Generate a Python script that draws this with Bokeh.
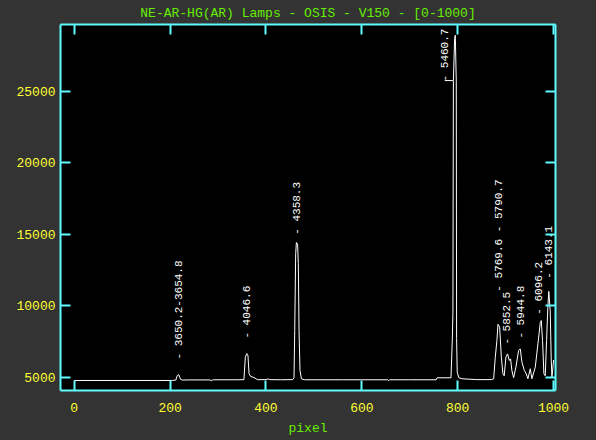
import math
from bokeh.plotting import figure
from bokeh.models import Range1d, FixedTicker, LinearAxis, CustomLabelingPolicy
from bokeh.core.properties import value
from bokeh.embed import file_html
from bokeh.resources import INLINE

# ---- data ----
pixel = [0, 205, 212, 215, 218, 222, 226, 240, 283, 286, 289, 292, 300, 340,
         354, 357, 360, 362.5, 364.7, 368, 375, 382, 400, 404, 408, 430,
         456, 458.5, 460, 462, 463.5, 466, 467.5, 469, 471, 474, 480,
         560, 600, 654, 656, 658, 700, 755, 757,
         786, 788.8, 790, 791, 793.6, 795, 797, 797.7, 799, 802.5, 809.6, 840, 870,
         875, 878.4, 881.8, 884, 887.5, 891, 894.3, 897, 900.6, 904, 907.6, 910.3,
         913, 916.6, 921.4, 927, 930.5, 934, 939, 943, 946.4, 951.4, 954.8, 961.8,
         967.3, 972.3, 974.3, 977, 979.8, 982.6, 985.4, 988, 990, 993, 995, 996.5, 1000]
counts = [4770, 4770, 4800, 5120, 5180, 4850, 4800, 4810, 4810, 4750, 4810, 4820, 4820, 4820,
          4830, 6400, 6650, 6500, 5250, 5050, 4980, 4830, 4830, 4880, 4830, 4820,
          4830, 4950, 8260, 13630, 14420, 14300, 12940, 8260, 5470, 4890, 4820,
          4820, 4820, 4820, 4750, 4820, 4820, 4820, 4960,
          4960, 7680, 9540, 25760, 28690, 28910, 25680, 7700, 5350, 4960, 4890, 4830, 4830,
          4890, 6400, 7560, 8700, 8500, 6400, 5240, 5100, 6400, 6630, 6170, 6280,
          5470, 4960, 5700, 6860, 6980, 6050, 5470, 5240, 4890, 5590, 4890, 5700,
          7330, 8840, 8960, 7560, 5240, 5100, 7560, 9890, 11000, 9650, 6400, 4960, 6200]

line_labels = ["- 3650.2-3654.8", "- 4046.6", "- 4358.3", "- 5460.7",
               "- 5769.6 - 5790.7", "- 5852.5", "- 5944.8", "- 6096.2", "- 6143.1"]
label_pixel = [218, 361, 464, 773, 886, 903, 932, 969, 990]
label_counts = [6240, 7700, 14960, 25680, 10980, 7280, 7700, 9370, 11890]

# connector of the shifted 5460.7 label
connector_pixel = [773, 790]
connector_counts = [25740, 25740]

x_ticks = [0, 200, 400, 600, 800, 1000]
y_ticks = [5000, 10000, 15000, 20000, 25000]

TITLE = "NE-AR-HG(AR) Lamps - OSIS - V150 - [0-1000]"
X_LABEL = "pixel"

# ---- style ----
BG = "#333333"
CYAN = "#5ffcff"
YELLOW = "#ffff33"
GREEN = "#66ee00"
MONO = "Liberation Mono"

p = figure(width=596, height=440, output_backend="svg", toolbar_location=None,
           x_range=Range1d(-28.6, 1004), y_range=Range1d(4070, 29660),
           background_fill_color="black", border_fill_color=BG,
           outline_line_color=None,
           min_border_left=60, min_border_right=41, min_border_top=24,
           min_border_bottom=50, title=TITLE)

p.title.text_color = GREEN
p.title.text_font = MONO
p.title.text_font_size = "13px"
p.title.text_font_style = "normal"
p.title.align = "center"
p.title.standoff = 0
p.title.offset = 0

p.xgrid.visible = False
p.ygrid.visible = False

hide_all = CustomLabelingPolicy(code="""
    for (const i of [...indices]) indices.unset(i)
    return indices
""")


def style_axis(ax, ticks, labels=True):
    ax.ticker = FixedTicker(ticks=ticks)
    ax.axis_line_color = CYAN
    ax.axis_line_width = 2
    ax.major_tick_line_color = CYAN
    ax.major_tick_line_width = 2
    ax.major_tick_in = 10
    ax.major_tick_out = 0
    ax.minor_tick_line_color = None
    if labels:
        ax.major_label_text_color = YELLOW
        ax.major_label_text_font = MONO
        ax.major_label_text_font_size = "13px"
    else:
        ax.major_label_policy = hide_all
        ax.major_label_text_font_size = "1px"
        ax.major_label_standoff = 0


style_axis(p.xaxis[0], x_ticks)
p.xaxis[0].major_label_standoff = 12
p.xaxis[0].axis_label = X_LABEL
p.xaxis[0].axis_label_text_color = GREEN
p.xaxis[0].axis_label_text_font = MONO
p.xaxis[0].axis_label_text_font_size = "13px"
p.xaxis[0].axis_label_text_font_style = "normal"
p.xaxis[0].axis_label_standoff = 6

style_axis(p.yaxis[0], y_ticks)
p.yaxis[0].major_label_standoff = 5

top_axis = LinearAxis()
style_axis(top_axis, x_ticks, labels=False)
p.add_layout(top_axis, "above")

right_axis = LinearAxis()
style_axis(right_axis, y_ticks, labels=False)
p.add_layout(right_axis, "right")

p.line(pixel, counts, line_color="white", line_width=1)

p.text(x=label_pixel, y=label_counts, text=line_labels, angle=math.pi / 2,
       text_align="left", text_baseline="middle", text_color="white",
       text_font=value(MONO), text_font_size="11px")
p.line(connector_pixel, connector_counts, line_color="white", line_width=1)

html = file_html(p, INLINE)
html = html.replace("</head>", "<style>html,body{background:#333333;}</style></head>", 1)
open("out.html", "w").write(html)
